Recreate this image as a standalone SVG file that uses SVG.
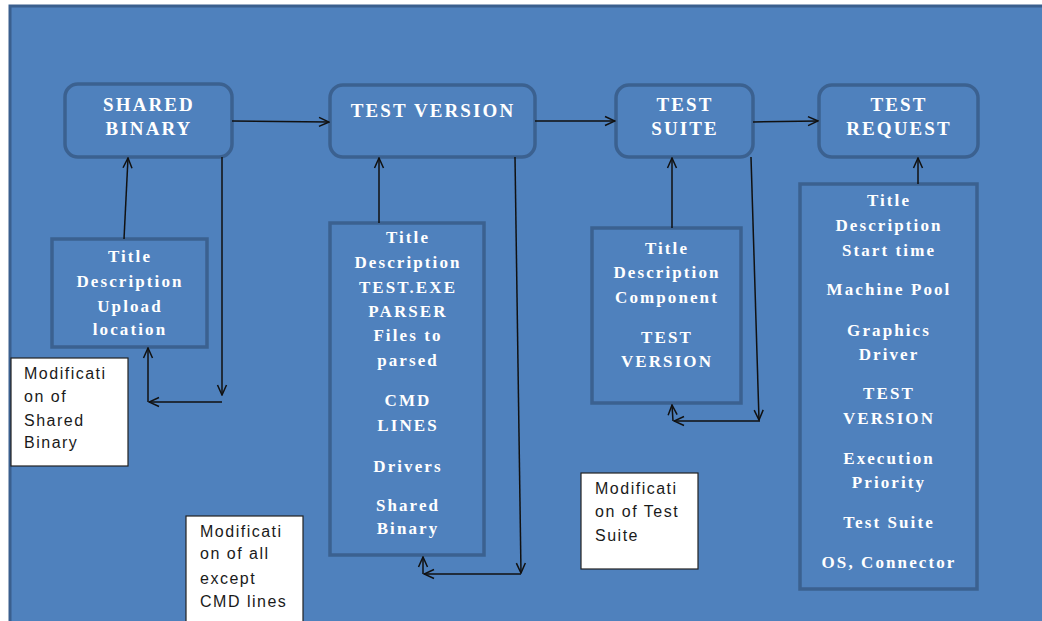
<svg xmlns="http://www.w3.org/2000/svg" width="1042" height="621" viewBox="0 0 1042 621">
  <style>
    .bg { fill: #4f81bd; stroke: #3a5f8e; stroke-width: 3; }
    .hbox { fill: #4f81bd; stroke: #3b6190; stroke-width: 3.5; }
    .dbox { fill: #4f81bd; stroke: #3b6190; stroke-width: 3.5; }
    .note { fill: #ffffff; stroke: #222222; stroke-width: 1.2; }
    .h { font-family: "Liberation Serif", "Times New Roman", serif; font-weight: bold; font-size: 19px; fill: #ffffff; letter-spacing: 2.1px; text-anchor: middle; }
    .b { font-family: "Liberation Serif", "Times New Roman", serif; font-weight: bold; font-size: 17px; fill: #ffffff; letter-spacing: 2.1px; text-anchor: middle; }
    .n { font-family: "Liberation Sans", Arial, sans-serif; font-size: 16px; fill: #1a1a1a; letter-spacing: 1.5px; }
    .c { fill: none; stroke: #111111; stroke-width: 1.5; marker-end: url(#arr); }
  </style>
  <defs>
    <marker id="arr" viewBox="0 0 12 12" refX="11" refY="6" markerWidth="12" markerHeight="12" markerUnits="userSpaceOnUse" orient="auto">
      <path d="M1,1.5 L11,6 L1,10.5" fill="none" stroke="#111111" stroke-width="1.5"/>
    </marker>
  </defs>

  <rect x="0" y="0" width="1042" height="621" fill="#ffffff"/>
  <rect class="bg" x="10" y="6" width="1040" height="625"/>

  <g id="shared-binary">
    <rect class="hbox" x="65" y="84" width="167" height="73" rx="13"/>
    <text class="h" x="149" y="111">SHARED</text>
    <text class="h" x="149" y="135">BINARY</text>
  </g>

  <g id="test-version">
    <rect class="hbox" x="330" y="85" width="205" height="72" rx="13"/>
    <text class="h" x="433" y="117">TEST VERSION</text>
  </g>

  <g id="test-suite">
    <rect class="hbox" x="616" y="85" width="137" height="72" rx="13"/>
    <text class="h" x="685" y="111">TEST</text>
    <text class="h" x="685" y="135">SUITE</text>
  </g>

  <g id="test-request">
    <rect class="hbox" x="819" y="85" width="159" height="72" rx="13"/>
    <text class="h" x="899" y="111">TEST</text>
    <text class="h" x="899" y="135">REQUEST</text>
  </g>

  <g id="shared-binary-details">
    <rect class="dbox" x="52" y="239" width="155" height="108"/>
    <text class="b" x="130" y="262">Title</text>
    <text class="b" x="130" y="287">Description</text>
    <text class="b" x="130" y="312">Upload</text>
    <text class="b" x="130" y="335">location</text>
  </g>

  <g id="test-version-details">
    <rect class="dbox" x="330" y="223" width="154" height="332"/>
    <text class="b" x="408" y="243">Title</text>
    <text class="b" x="408" y="268">Description</text>
    <text class="b" x="408" y="293">TEST.EXE</text>
    <text class="b" x="408" y="317">PARSER</text>
    <text class="b" x="408" y="341">Files to</text>
    <text class="b" x="408" y="366">parsed</text>
    <text class="b" x="408" y="406">CMD</text>
    <text class="b" x="408" y="431">LINES</text>
    <text class="b" x="408" y="472">Drivers</text>
    <text class="b" x="408" y="511">Shared</text>
    <text class="b" x="408" y="534">Binary</text>
  </g>

  <g id="test-suite-details">
    <rect class="dbox" x="592" y="228" width="149" height="175"/>
    <text class="b" x="667" y="254">Title</text>
    <text class="b" x="667" y="278">Description</text>
    <text class="b" x="667" y="303">Component</text>
    <text class="b" x="667" y="343">TEST</text>
    <text class="b" x="667" y="367">VERSION</text>
  </g>

  <g id="test-request-details">
    <rect class="dbox" x="800" y="184" width="177" height="405"/>
    <text class="b" x="889" y="206">Title</text>
    <text class="b" x="889" y="231">Description</text>
    <text class="b" x="889" y="256">Start time</text>
    <text class="b" x="889" y="295">Machine Pool</text>
    <text class="b" x="889" y="336">Graphics</text>
    <text class="b" x="889" y="360">Driver</text>
    <text class="b" x="889" y="399">TEST</text>
    <text class="b" x="889" y="424">VERSION</text>
    <text class="b" x="889" y="464">Execution</text>
    <text class="b" x="889" y="488">Priority</text>
    <text class="b" x="889" y="528">Test Suite</text>
    <text class="b" x="889" y="568">OS, Connector</text>
  </g>

  <g id="note-shared-binary">
    <rect class="note" x="11" y="358" width="117" height="108"/>
    <text class="n" x="24" y="379">Modificati</text>
    <text class="n" x="24" y="402">on of</text>
    <text class="n" x="24" y="426">Shared</text>
    <text class="n" x="24" y="448">Binary</text>
  </g>

  <g id="note-all-except-cmd">
    <rect class="note" x="186" y="516" width="117" height="110"/>
    <text class="n" x="200" y="537">Modificati</text>
    <text class="n" x="200" y="559">on of all</text>
    <text class="n" x="200" y="584">except</text>
    <text class="n" x="200" y="607">CMD lines</text>
  </g>

  <g id="note-test-suite">
    <rect class="note" x="581" y="473" width="117" height="96"/>
    <text class="n" x="595" y="494">Modificati</text>
    <text class="n" x="595" y="517">on of Test</text>
    <text class="n" x="595" y="541">Suite</text>
  </g>

  <g id="connectors">
    <path class="c" d="M232,121 L329,122"/>
    <path class="c" d="M535,121 L615,121"/>
    <path class="c" d="M753,122 L818,121"/>
    <path class="c" d="M124,239 L128,158"/>
    <path class="c" d="M379,223 L379,158"/>
    <path class="c" d="M672,228 L672,158"/>
    <path class="c" d="M918,184 L918,158"/>
    <path class="c" d="M222,157 L222,395"/>
    <path class="c" d="M222,402 L149,402"/>
    <path class="c" d="M148,402 L148,348"/>
    <path class="c" d="M515,157 L521,573"/>
    <path class="c" d="M521,574 L424,574"/>
    <path class="c" d="M423,574 L423,557"/>
    <path class="c" d="M751,157 L759,420"/>
    <path class="c" d="M760,421 L674,421"/>
    <path class="c" d="M673,421 L672,405"/>
  </g>
</svg>
